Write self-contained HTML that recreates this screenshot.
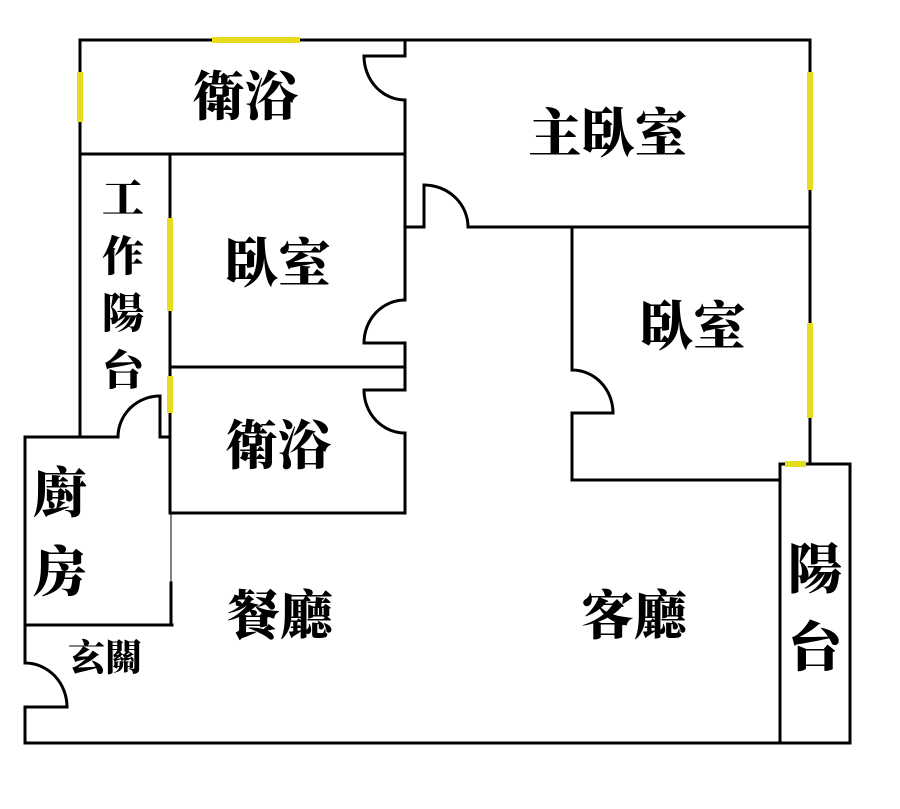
<!DOCTYPE html>
<html><head><meta charset="utf-8"><style>
html,body{margin:0;padding:0;background:#fff}
svg{display:block}
text{font-family:"Liberation Serif","Noto Serif CJK SC",serif;font-weight:900;fill:#000;text-anchor:middle;dominant-baseline:central}
</style></head><body>
<svg width="900" height="809" viewBox="0 0 900 809" xmlns="http://www.w3.org/2000/svg">
<g stroke="#000" stroke-width="3" fill="none" stroke-linecap="square">
<line x1="80" y1="40" x2="810" y2="40"/>
<line x1="810" y1="40" x2="810" y2="464"/>
<line x1="80" y1="40" x2="80" y2="437"/>
<line x1="80" y1="154" x2="405" y2="154"/>
<line x1="405" y1="40" x2="405" y2="56"/>
<line x1="364" y1="56" x2="405" y2="56"/>
<path d="M364 56 A41 44 0 0 0 405 100"/>
<line x1="405" y1="100" x2="405" y2="300"/>
<line x1="405" y1="227" x2="424" y2="227"/>
<line x1="424" y1="227" x2="424" y2="185"/>
<path d="M424 185 A44 42 0 0 1 468 227"/>
<line x1="468" y1="227" x2="810" y2="227"/>
<line x1="572" y1="227" x2="572" y2="370"/>
<path d="M572 370 A41 43 0 0 1 613 413"/>
<line x1="613" y1="413" x2="572" y2="413"/>
<line x1="572" y1="413" x2="572" y2="480"/>
<line x1="572" y1="480" x2="780" y2="480"/>
<rect x="780" y="464" width="70" height="279"/>
<line x1="170" y1="155" x2="170" y2="513"/>
<line x1="170" y1="367" x2="405" y2="367"/>
<path d="M405 300 A41 43 0 0 0 364 343"/>
<line x1="364" y1="343" x2="405" y2="343"/>
<line x1="405" y1="343" x2="405" y2="390"/>
<line x1="364" y1="390" x2="405" y2="390"/>
<path d="M364 390 A41 43 0 0 0 405 433"/>
<line x1="405" y1="433" x2="405" y2="513"/>
<line x1="170" y1="513" x2="405" y2="513"/>
<line x1="25" y1="437" x2="118" y2="437"/>
<path d="M118 437 A42 41 0 0 1 160 396"/>
<line x1="160" y1="396" x2="160" y2="437"/>
<line x1="160" y1="437" x2="170" y2="437"/>
<line x1="25" y1="437" x2="25" y2="663"/>
<line x1="25" y1="625" x2="172" y2="625"/>
<line x1="171" y1="583" x2="171" y2="625"/>
<path d="M25 663 A42 44 0 0 1 67 707"/>
<line x1="25" y1="707" x2="67" y2="707"/>
<line x1="25" y1="707" x2="25" y2="743"/>
<line x1="25" y1="743" x2="850" y2="743"/>
</g>
<line x1="171" y1="513" x2="171" y2="625" stroke="#000" stroke-width="1"/>
<g stroke="#e6dc1e" stroke-width="6">
<line x1="212" y1="40" x2="300" y2="40"/>
<line x1="80" y1="72" x2="80" y2="122"/>
<line x1="810" y1="72" x2="810" y2="190"/>
<line x1="170" y1="218" x2="170" y2="311"/>
<line x1="170" y1="376" x2="170" y2="413"/>
<line x1="810" y1="323" x2="810" y2="418"/>
<line x1="785" y1="464" x2="806" y2="464"/>
</g>
<text x="245" y="98" font-size="53">衛浴</text>
<text x="608" y="135" font-size="53">主臥室</text>
<text x="278" y="265" font-size="53">臥室</text>
<text x="693" y="328" font-size="53">臥室</text>
<text x="278" y="447" font-size="53">衛浴</text>
<text x="280" y="617" font-size="53">餐廳</text>
<text x="634" y="617" font-size="53">客廳</text>
<text x="123" y="200" font-size="42">工</text>
<text x="123" y="258" font-size="42">作</text>
<text x="123" y="315" font-size="42">陽</text>
<text x="123" y="372" font-size="42">台</text>
<text x="60" y="494" font-size="54">廚</text>
<text x="60" y="573" font-size="54">房</text>
<text x="105" y="659" font-size="37">玄關</text>
<text x="815" y="570" font-size="54">陽</text>
<text x="815" y="648" font-size="54">台</text>
</svg>
</body></html>
